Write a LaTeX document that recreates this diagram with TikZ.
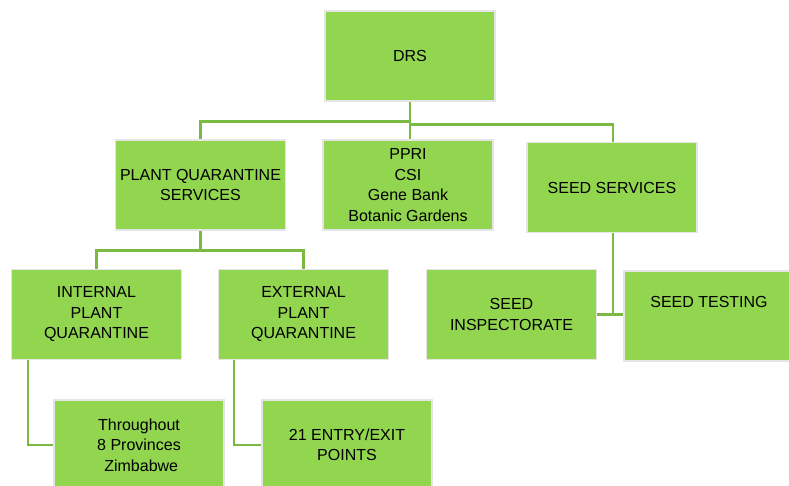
\documentclass[tikz,border=0pt]{standalone}
\usepackage{fontspec}
\setmainfont{Liberation Sans}
\definecolor{boxgreen}{RGB}{146,214,80}
\definecolor{linegreen}{RGB}{122,186,66}
\begin{document}
\begin{tikzpicture}[x=1pt,y=-1pt,
  box/.style={draw=black!10, line width=1.2pt, fill=boxgreen, minimum width=170pt, minimum height=90pt,
    inner sep=0pt, align=center, font=\fontsize{16pt}{20.5pt}\selectfont, text=black},
  conn/.style={draw=linegreen, line width=2.6pt}]
\useasboundingbox (0,0) rectangle (789,486);
\clip (0,0) rectangle (789,486);
\fill[white] (0,0) rectangle (789,486);
\node[box] (DRS) at (410,56) {DRS};
\node[box] (PQS) at (200.5,185) {PLANT QUARANTINE\\SERVICES};
\node[box] (PPRI) at (408,185) {PPRI\\CSI\\Gene Bank\\Botanic Gardens};
\node[box] (SS) at (612,187.5) {SEED SERVICES};
\node[box] (INT) at (96.5,314.5) {INTERNAL\\PLANT\\QUARANTINE};
\node[box] (EXT) at (303.5,314.5) {EXTERNAL\\PLANT\\QUARANTINE};
\node[box] (SI) at (511.5,314.5) {SEED\\INSPECTORATE};
\node[box] (ST) at (709,316) {};
\node[font=\fontsize{16pt}{20.5pt}\selectfont, text=black] (STt) at ([yshift=14pt]ST.center) {SEED TESTING};
\node[box] (TH) at (139,445) {Throughout\\8 Provinces\\\ Zimbabwe};
\node[box] (EN) at (347,445) {21 ENTRY/EXIT\\POINTS};
% connectors
\coordinate (jl) at ([yshift=-20pt]DRS.south);
\coordinate (jr) at ([yshift=-23pt]DRS.south);
\draw[conn] (DRS.south) -- (DRS.south |- PPRI.north);
\draw[conn] (jl) -| (PQS.north);
\draw[conn] (jr) -| ([xshift=1pt]SS.north);
\coordinate (jq) at ([yshift=-20pt]PQS.south);
\draw[conn] (PQS.south) -- (jq);
\draw[conn] (jq) -| (INT.north);
\draw[conn] (jq) -| (EXT.north);
\coordinate (js) at ([xshift=1pt]SS.south |- SI.east);
\draw[conn] ([xshift=1pt]SS.south) -- (js);
\draw[conn] (SI.east) -- (ST.west |- SI.east);
\draw[conn] ([xshift=17pt]INT.south west) |- (TH.west);
\draw[conn] ([xshift=16pt]EXT.south west) |- (EN.west);
\end{tikzpicture}
\end{document}
